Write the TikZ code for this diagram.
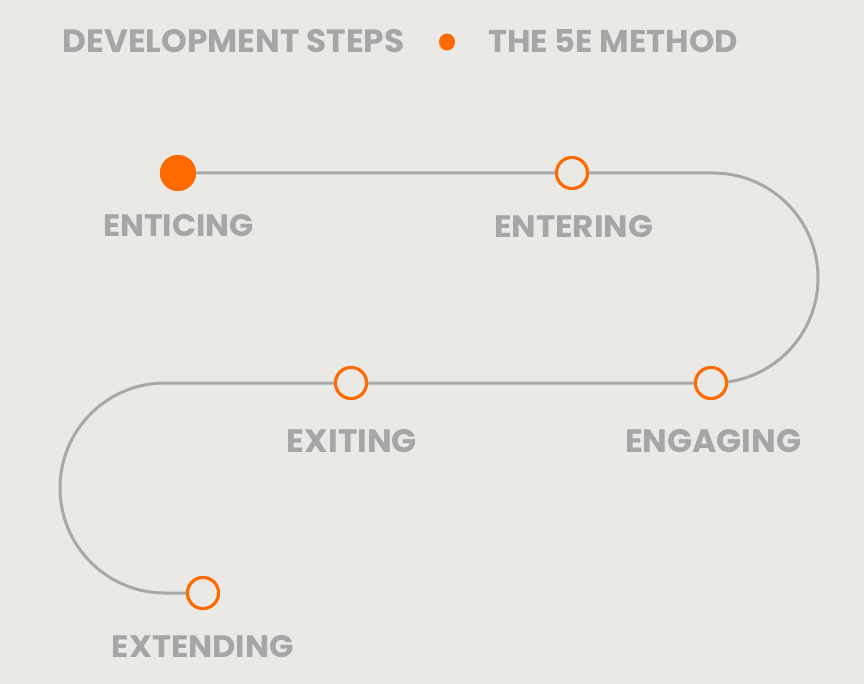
\documentclass[tikz,border=0pt]{standalone}
\usepackage{fontspec}
\setmainfont{Poppins}[UprightFont=* Bold]
\usepackage{graphicx}
\usetikzlibrary{shapes.geometric}
\definecolor{bgc}{RGB}{234,233,230}
\definecolor{orng}{RGB}{255,106,0}
\definecolor{txtg}{RGB}{166,166,166}
\definecolor{lineg}{RGB}{168,168,168}
\newcommand{\fitlbl}[3]{\resizebox{#1pt}{#2pt}{\fontsize{30}{30}\selectfont #3}}
\tikzset{
  lbl/.style={inner sep=0pt, outer sep=0pt, text=txtg, anchor=center},
  pathline/.style={draw=lineg, line width=3pt},
  stepdot/.style={circle, fill=orng, inner sep=0pt, minimum size=36pt},
  stepring/.style={circle, draw=orng, line width=3pt, fill=bgc, inner sep=0pt, minimum size=31pt},
}
\begin{document}
\begin{tikzpicture}[x=1pt, y=-1pt]
\fill[bgc] (0,0) rectangle (864,684);
\useasboundingbox (0,0) rectangle (864,684);
% header
\node[lbl] (h1) at (233.5,41.5) {\fitlbl{342}{23}{DEVELOPMENT STEPS}};
\node[ellipse, fill=orng, inner sep=0pt, minimum width=16pt, minimum height=17pt] (hd) at (447,42) {};
\node[lbl] (h2) at (613,41.5) {\fitlbl{250}{23}{THE 5E METHOD}};
% path corners
\coordinate (r1) at (713,173);
\coordinate (l1) at (165,383);
% steps
\node[stepdot] (c1) at (178,173) {};
\node[stepring] (c2) at (572,173) {};
\node[stepring] (c3) at (711,383) {};
\node[stepring] (c4) at (351,383) {};
\node[stepring] (c5) at (203,593) {};
% connector
\draw[pathline] (c1.center) -- (r1) arc (-90:90:105) -- (l1) arc (-90:-270:105) -- (c5.center);
% redraw steps on top
\node[stepdot] at (c1) {};
\node[stepring] at (c2) {};
\node[stepring] at (c3) {};
\node[stepring] at (c4) {};
\node[stepring] at (c5) {};
% labels
\node[lbl] (t1) at (178.5,226) {\fitlbl{151}{22}{ENTICING}};
\node[lbl] (t2) at (573.5,226.5) {\fitlbl{159}{22}{ENTERING}};
\node[lbl] (t3) at (713,441) {\fitlbl{176}{23}{ENGAGING}};
\node[lbl] (t4) at (352,441) {\fitlbl{130}{23}{EXITING}};
\node[lbl] (t5) at (203,647) {\fitlbl{182}{22}{EXTENDING}};
\end{tikzpicture}
\end{document}
